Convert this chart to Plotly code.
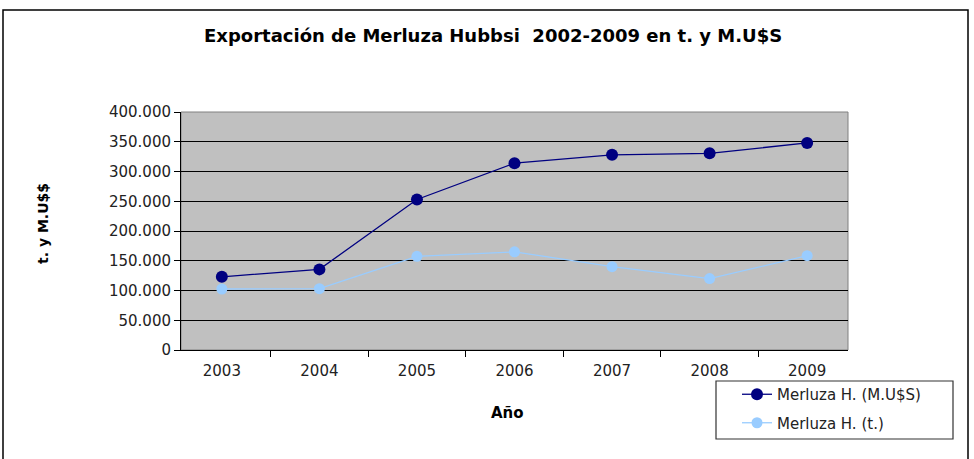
import plotly.graph_objects as go

years = ["2003", "2004", "2005", "2006", "2007", "2008", "2009"]
musd = [123000, 135500, 253000, 314000, 328000, 330500, 348000]
tons = [102500, 103000, 157500, 165000, 140000, 120000, 158500]
y_ticks = [0, 50000, 100000, 150000, 200000, 250000, 300000, 350000, 400000]

L, R, T, B = 181, 848, 112, 350
W, H = 974, 459
pw, ph = R - L, B - T


def px(x):
    return (x - L) / pw


def py(y):
    return (B - y) / ph


font = "DejaVu Sans, Liberation Sans, Arial, sans-serif"

fig = go.Figure()
fig.add_trace(go.Scatter(
    x=years, y=musd, name="Merluza H. (M.U$S)", mode="lines+markers",
    legendgroup="a",
    line=dict(color="#000080", width=1.3),
    marker=dict(color="#000080", size=12),
))
fig.add_trace(go.Scatter(
    x=years, y=tons, name="Merluza H. (t.)", mode="lines+markers",
    legendgroup="b",
    line=dict(color="#99CCFF", width=1.3),
    marker=dict(color="#99CCFF", size=11),
))

fig.update_layout(
    width=W, height=H,
    margin=dict(l=L, r=W - R, t=T, b=H - B, pad=0),
    paper_bgcolor="white", plot_bgcolor="#C0C0C0",
    font=dict(family=font, size=15, color="#222"),
    separators=",.",
    showlegend=True,
    legend=dict(
        x=px(737), y=py(378), xanchor="left", yanchor="top",
        borderwidth=0, bgcolor="rgba(0,0,0,0)",
        font=dict(size=15, color="#222"),
        traceorder="grouped", tracegroupgap=6,
    ),
    xaxis=dict(
        type="category", tickson="boundaries", ticks="outside", ticklen=6,
        tickcolor="black", showline=True, linecolor="black", linewidth=1,
        showgrid=False, zeroline=False, mirror=False,
        ticklabelstandoff=7,
        tickfont=dict(size=15, color="#222"),
    ),
    yaxis=dict(
        range=[0, 400000], tickvals=y_ticks, tickformat=",d",
        ticks="outside", ticklen=6, tickcolor="black",
        showline=True, linecolor="black", linewidth=1,
        showgrid=True, gridcolor="black", gridwidth=1, zeroline=False,
        tickfont=dict(size=15, color="#222"),
    ),
    shapes=[
        dict(type="rect", xref="paper", yref="paper", x0=0, x1=1, y0=0, y1=1,
             line=dict(color="#808080", width=1), layer="below"),
        dict(type="rect", xref="paper", yref="paper",
             x0=px(3), x1=px(968), y0=py(480), y1=py(10),
             line=dict(color="black", width=1.5)),
        dict(type="rect", xref="paper", yref="paper",
             x0=px(716), x1=px(953), y0=py(439), y1=py(381),
             line=dict(color="#333333", width=1.2)),
    ],
    annotations=[
        dict(text="<b>Exportación de Merluza Hubbsi  2002-2009 en t. y M.U$S</b>",
             xref="paper", yref="paper", x=px(493), y=py(35),
             xanchor="center", yanchor="middle",
             showarrow=False, font=dict(size=18, color="black")),
        dict(text="<b>t. y M.U$$</b>", xref="paper", yref="paper",
             x=px(43), y=py(224), textangle=-90, showarrow=False,
             xanchor="center", yanchor="middle",
             font=dict(size=14, color="black")),
        dict(text="<b>Año</b>", xref="paper", yref="paper",
             x=px(507), y=py(413), showarrow=False,
             xanchor="center", yanchor="middle",
             font=dict(size=15, color="black")),
    ],
)

fig.write_html("out.html", config={"displayModeBar": False},
               post_script="document.body.style.margin='0px';")
